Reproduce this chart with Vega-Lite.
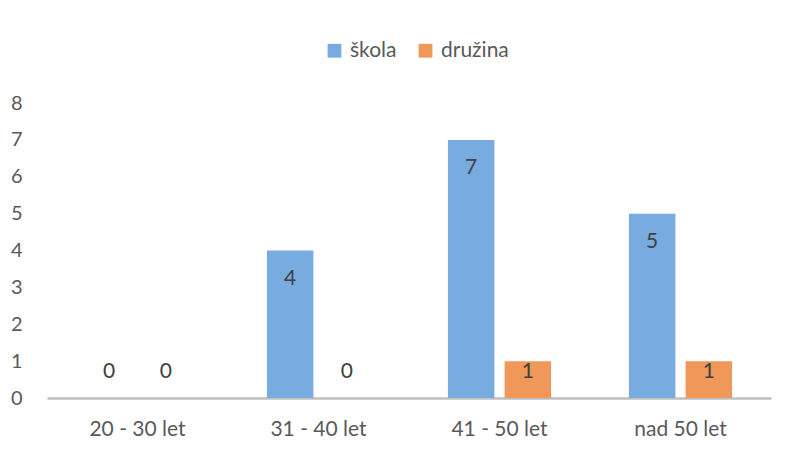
{
  "$schema": "https://vega.github.io/schema/vega-lite/v6.json",
  "width": 724,
  "height": 295,
  "autosize": "none",
  "padding": {"left": 47, "top": 103, "right": 29, "bottom": 52},
  "background": "white",
  "config": {
    "view": {"stroke": null},
    "font": "Lato",
    "axis": {"labelFont": "Lato", "labelFontSize": 20, "labelColor": "#595959", "grid": false, "ticks": false}
  },
  "data": {
    "values": [
      {"vek": "20 - 30 let", "skupina": "škola", "pocet": 0},
      {"vek": "20 - 30 let", "skupina": "družina", "pocet": 0},
      {"vek": "31 - 40 let", "skupina": "škola", "pocet": 4},
      {"vek": "31 - 40 let", "skupina": "družina", "pocet": 0},
      {"vek": "41 - 50 let", "skupina": "škola", "pocet": 7},
      {"vek": "41 - 50 let", "skupina": "družina", "pocet": 1},
      {"vek": "nad 50 let", "skupina": "škola", "pocet": 5},
      {"vek": "nad 50 let", "skupina": "družina", "pocet": 1}
    ]
  },
  "encoding": {
    "x": {
      "field": "vek", "type": "nominal", "sort": null, "title": null,
      "scale": {"paddingInner": 0.43, "paddingOuter": 0.215},
      "axis": {"labelAngle": 0, "domainColor": "#bfbfbf", "domainWidth": 2.5, "labelPadding": 20, "labelFontSize": 21}
    },
    "xOffset": {
      "field": "skupina", "type": "nominal", "sort": ["škola", "družina"],
      "scale": {"paddingInner": 0.18, "paddingOuter": 0}
    },
    "y": {
      "field": "pocet", "type": "quantitative", "title": null,
      "scale": {"domain": [0, 8], "nice": false},
      "axis": {"values": [0, 1, 2, 3, 4, 5, 6, 7, 8], "domain": false, "labelPadding": 25}
    }
  },
  "layer": [
    {
      "mark": {"type": "bar"},
      "encoding": {
        "color": {
          "field": "skupina", "type": "nominal", "sort": ["škola", "družina"],
          "scale": {"domain": ["škola", "družina"], "range": ["#78abdf", "#f0975a"]},
          "legend": {
            "title": null, "orient": "none", "direction": "horizontal",
            "legendX": 277, "legendY": -63,
            "symbolType": "square", "symbolSize": 190, "symbolStrokeWidth": 0,
            "labelFont": "Lato", "labelFontSize": 21, "labelColor": "#595959",
            "labelOffset": 5, "columnPadding": 18
          }
        }
      }
    },
    {
      "transform": [{"filter": "datum.pocet >= 2"}],
      "mark": {"type": "text", "dy": 28, "fontSize": 21, "color": "#404040", "font": "Lato"},
      "encoding": {"text": {"field": "pocet", "type": "quantitative"}}
    },
    {
      "transform": [{"filter": "datum.pocet == 1"}],
      "mark": {"type": "text", "dy": 11, "fontSize": 21, "color": "#404040", "font": "Lato"},
      "encoding": {"text": {"field": "pocet", "type": "quantitative"}}
    },
    {
      "transform": [{"filter": "datum.pocet == 0"}],
      "mark": {"type": "text", "dy": -26, "fontSize": 21, "color": "#404040", "font": "Lato"},
      "encoding": {"text": {"field": "pocet", "type": "quantitative"}}
    }
  ]
}
